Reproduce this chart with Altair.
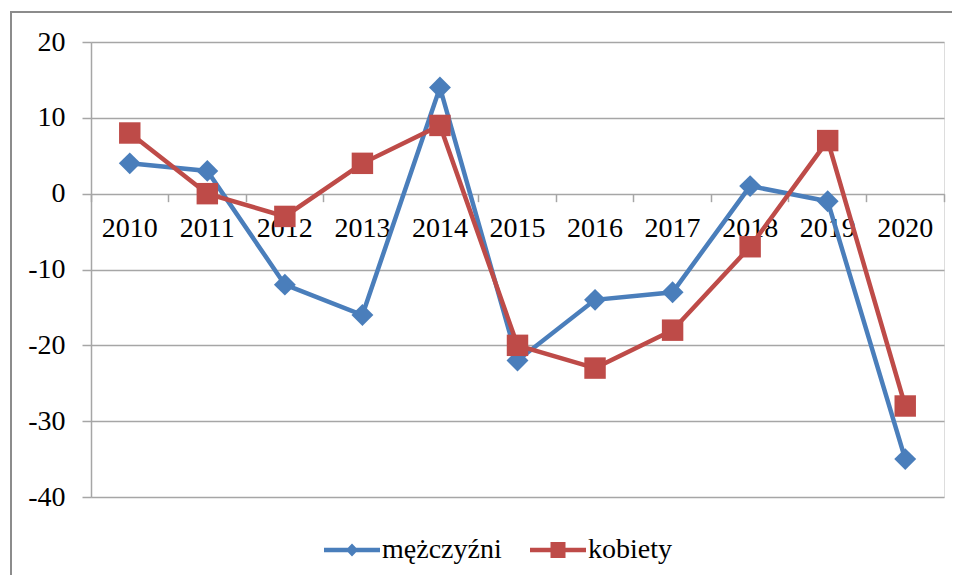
import altair as alt
import pandas as pd

years = [2010, 2011, 2012, 2013, 2014, 2015, 2016, 2017, 2018, 2019, 2020]
series_names = ["mężczyźni", "kobiety"]
men = [4, 3, -12, -16, 14, -22, -14, -13, 1, -1, -35]
women = [8, 0, -3, 4, 9, -20, -23, -18, -7, 7, -28]
y_ticks = [-40, -30, -20, -10, 0, 10, 20]

colors = ["#4A7EBB", "#BE4B48"]

df = pd.DataFrame({
    "year": [str(y) for y in years] * 2,
    "value": men + women,
    "series": [series_names[0]] * len(years) + [series_names[1]] * len(years),
})

W, H = 853, 455
FONT = "Liberation Serif"
FS = 28
GRID = "#A6A6A6"

y_zero_px = H * (max(y_ticks) - 0) / (max(y_ticks) - min(y_ticks))

x_enc = alt.X(
    "year:O",
    scale=alt.Scale(type="band", paddingInner=0, paddingOuter=0),
    axis=alt.Axis(
        title=None, orient="bottom", offset=y_zero_px - H,
        bandPosition=1, tickExtra=True,
        domain=False, grid=False, ticks=True, tickSize=8, tickColor=GRID,
        tickWidth=1.5, labelPadding=13, labelFont=FONT, labelFontSize=FS,
        labelColor="#000000", labelAngle=0,
    ),
)
y_enc = alt.Y(
    "value:Q",
    scale=alt.Scale(domain=[min(y_ticks), max(y_ticks)], nice=False, zero=False),
    axis=alt.Axis(
        title=None, values=y_ticks, grid=True, gridColor=GRID, gridWidth=1.5,
        domain=True, domainColor=GRID, domainWidth=1.5,
        ticks=True, tickSize=9, tickColor=GRID, tickWidth=1.5,
        labelPadding=17, labelFont=FONT, labelFontSize=FS, labelColor="#000000",
        labelExpr="'' + datum.value",
    ),
)

base = alt.Chart(df)
layers = []
shapes = ["diamond", "square"]
sizes = [480, 460]
for i, s in enumerate(series_names):
    sub = base.transform_filter(alt.datum.series == s)
    layers.append(
        sub.mark_line(strokeWidth=4.5, color=colors[i]).encode(x=x_enc, y=y_enc)
    )
    layers.append(
        sub.mark_point(filled=True, opacity=1, shape=shapes[i], size=sizes[i],
                       color=colors[i]).encode(x=x_enc, y=y_enc)
    )

# legend symbols: line with marker (custom SVG paths)
path_m = "M-2.8,-0.22H2.8V0.22H-2.8Z M0,-0.65L0.62,0L0,0.65L-0.62,0Z"
path_k = "M-2.8,-0.22H2.8V0.22H-2.8Z M-0.75,-0.8H0.75V0.8H-0.75Z"
leg = alt.Legend(
    title=None, orient="none", legendX=247, legendY=494, direction="horizontal",
    labelFont=FONT, labelFontSize=FS, labelColor="#000000",
    symbolSize=400, symbolStrokeWidth=0, labelOffset=16, columnPadding=28,
    padding=0, symbolOpacity=1,
)
legend_layer = base.transform_filter("false").mark_point(filled=True, opacity=1).encode(
    color=alt.Color("series:N", scale=alt.Scale(domain=series_names, range=colors), legend=leg),
    shape=alt.Shape("series:N", scale=alt.Scale(domain=series_names, range=[path_m, path_k]), legend=leg),
)

frame = alt.Chart(pd.DataFrame({"k": [0]})).mark_rect(
    fillOpacity=0, stroke="#8C8C8C", strokeWidth=2
).encode(
    x=alt.value(-80), x2=alt.value(900), y=alt.value(-30), y2=alt.value(580)
)

chart = alt.layer(frame, *layers, legend_layer).properties(
    width=W, height=H,
    padding={"left": 83, "top": 34, "right": 8, "bottom": 78},
    autosize=alt.AutoSizeParams(type="none"),
).configure_view(stroke=None).configure(background="#FFFFFF")

chart.save("out.html", embed_options={"renderer": "svg", "actions": False})
